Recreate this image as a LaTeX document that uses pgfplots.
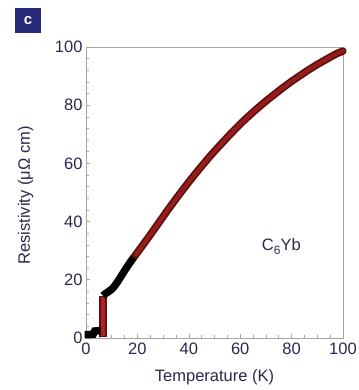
\documentclass[border=0pt]{standalone}
\usepackage{fontspec}
\setmainfont{Liberation Sans}
\usepackage{pgfplots}
\pgfplotsset{compat=1.18}

\definecolor{axisgrey}{RGB}{165,165,165}
\definecolor{labelink}{RGB}{45,40,75}
\definecolor{curvedark}{RGB}{95,15,15}
\definecolor{curvered}{RGB}{150,28,28}
\definecolor{jumpred}{RGB}{180,32,32}
\definecolor{panelblue}{RGB}{38,40,120}

\begin{document}
\begin{tikzpicture}
\useasboundingbox (0,0) rectangle (358pt,390pt);

% panel letter
\node[fill=panelblue, text=white, minimum width=26pt, minimum height=25pt,
      inner sep=0pt, font=\fontsize{15}{15}\selectfont\bfseries]
  at (28pt,369pt) {c};

\begin{axis}[
  at={(86pt,52pt)}, anchor=south west,
  scale only axis, width=257pt, height=291pt,
  xmin=0, xmax=100, ymin=0, ymax=100,
  xtick={0,20,...,100}, ytick={0,20,...,100},
  minor x tick num=3, minor y tick num=4,
  xtick pos=bottom, ytick pos=left,
  tick align=inside,
  major tick length=4pt, minor tick length=2.5pt,
  axis line style={axisgrey, line width=0.9pt},
  every tick/.style={axisgrey, line width=0.6pt},
  /pgf/number format/assume math mode=true,
  tick label style={font=\fontsize{16.5}{19}\selectfont, text=labelink},
  label style={font=\fontsize{16.5}{19}\selectfont, text=labelink},
  xticklabel style={yshift=-1pt},
  xlabel={Temperature (K)},
  ylabel={Resistivity (μΩ cm)},
  xlabel style={at={(axis description cs:0.5,-0.134)}, anchor=center},
  ylabel style={at={(axis description cs:-0.235,0.49)}, anchor=center},
  clip=false,
]

% superconducting jump
\addplot[line width=7.5pt, curvedark] coordinates {(6.6,0.4) (6.6,14.5)};
\addplot[line width=4pt, jumpred] coordinates {(6.6,0.8) (6.6,14.0)};

% normal-state resistivity
\addplot[line width=7.5pt, curvedark, line cap=round, line join=round] coordinates {
(18.5,27.6) (19.5,28.8) (21,30.6) (22.5,32.4) (24,34.2) (26,36.7) (28,39.2)
(30,41.7) (32,44.2) (34,46.6) (36,49) (38,51.3) (40,53.6) (42,55.8) (44,58)
(46,60.1) (48,62.2) (50,64.2) (52,66.1) (54,68) (56,69.9) (58,71.7) (60,73.5)
(62,75.2) (64,76.8) (66,78.4) (68,79.9) (70,81.4) (72,82.8) (74,84.2)
(76,85.6) (78,86.9) (80,88.2) (82,89.4) (84,90.6) (86,91.8) (88,92.9)
(90,94) (92,95) (94,96) (96,97) (98,97.9) (100,98.6)};
\addplot[line width=4pt, curvered, line cap=round, line join=round] coordinates {
(19.5,28.8) (21,30.6) (22.5,32.4) (24,34.2) (26,36.7) (28,39.2)
(30,41.7) (32,44.2) (34,46.6) (36,49) (38,51.3) (40,53.6) (42,55.8) (44,58)
(46,60.1) (48,62.2) (50,64.2) (52,66.1) (54,68) (56,69.9) (58,71.7) (60,73.5)
(62,75.2) (64,76.8) (66,78.4) (68,79.9) (70,81.4) (72,82.8) (74,84.2)
(76,85.6) (78,86.9) (80,88.2) (82,89.4) (84,90.6) (86,91.8) (88,92.9)
(90,94) (92,95) (94,96) (96,97) (98,97.9) (100,98.6)};

% low-temperature points
\addplot[line width=7.5pt, black, line join=round] coordinates {
(6.6,14.5) (7.5,15.2) (8.5,15.8) (9.5,16.4) (10.5,17.2) (11.5,18.3)
(12.5,19.6) (13.5,21) (14.5,22.4) (15.5,23.8) (16.5,25.1) (17.5,26.4)
(18.5,27.6)};
\addplot[line width=7.5pt, black] coordinates {
(-0.5,1.2) (1.5,1.2) (2.8,1.3) (3.4,2.4) (4.8,2.5) (5.8,2.5)};

\node[font=\fontsize{16.5}{19}\selectfont, text=labelink] at (axis cs:76,31.5)
  {C\raisebox{-4pt}{\fontsize{12}{12}\selectfont 6}Yb};
\end{axis}
\end{tikzpicture}
\end{document}
